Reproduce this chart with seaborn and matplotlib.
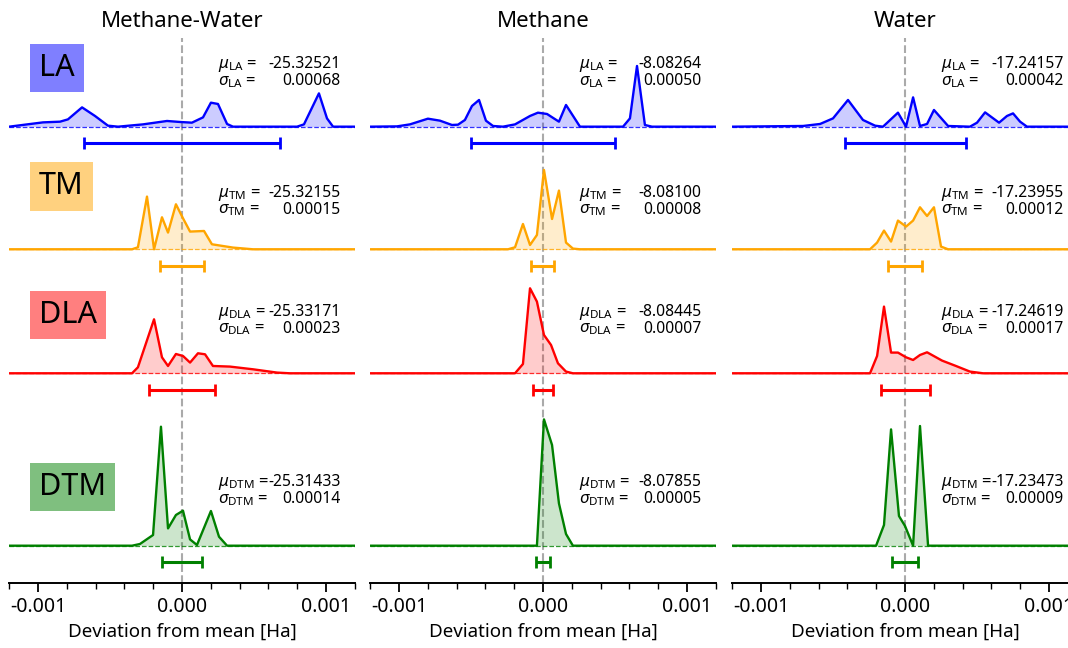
import numpy as np
import pandas as pd
import matplotlib
matplotlib.use("Agg")
import matplotlib.pyplot as plt
from matplotlib.ticker import MultipleLocator, FormatStrFormatter
import seaborn as sns

# Systems (columns) and methods (rows)
systems = ["Methane-Water", "Methane", "Water"]
methods = ["LA", "TM", "DLA", "DTM"]
colors = ["blue", "orange", "red", "green"]

# Means and standard deviations [Ha]
mu_mw = [-25.32521, -25.32155, -25.33171, -25.31433]
sigma_mw = [0.00068, 0.00015, 0.00023, 0.00014]
mu_me = [-8.08264, -8.08100, -8.08445, -8.07855]
sigma_me = [0.00050, 0.00008, 0.00007, 0.00005]
mu_w = [-17.24157, -17.23955, -17.24619, -17.23473]
sigma_w = [0.00042, 0.00012, 0.00017, 0.00009]

# Distributions: deviation (units of 1e-4 Ha) and density (arbitrary units)
mw_la_x = [-12.0, -9.65, -8.47, -7.92, -6.94, -6.04, -5.14, -4.44, -2.71, -1.04, -0.14, 0.69,
           1.46, 2.01, 2.5, 3.13, 3.54, 7.99, 8.47, 9.51, 10.07, 10.49, 12.0]
mw_la_y = [0, 4.3, 5, 7.3, 19.3, 10.7, 1, 0, 2.3, 5.7, 4.7, 4, 9.3, 24, 22.7, 2.7, 0, 0, 2.3,
           33.3, 8.3, 0, 0]
mw_tm_x = [-12.0, -3.47, -3.06, -2.43, -1.94, -1.39, -0.97, -0.42, 0.07, 0.56, 1.53, 2.08,
           3.54, 4.93, 12.0]
mw_tm_y = [0, 0, 2, 52.7, 0, 32, 16.7, 45, 31, 17.7, 18.3, 5, 1.7, 0, 0]
mw_dla_x = [-12.0, -3.47, -3.06, -1.94, -1.39, -0.97, -0.42, 0.07, 0.56, 1.11, 1.6, 2.15,
            3.33, 4.93, 6.6, 7.5, 12.0]
mw_dla_y = [0, 0, 6, 54, 16, 7.3, 19.3, 17.3, 10.7, 20, 19, 7.3, 6.7, 4, 0.7, 0, 0]
mw_dtm_x = [-12.0, -3.47, -2.92, -2.01, -1.46, -0.97, -0.42, 0.07, 0.56, 1.04, 2.01, 2.57,
            3.13, 12.0]
mw_dtm_y = [0, 0, 1.7, 10.7, 119, 17.3, 30.7, 35, 6.3, 0.7, 34.7, 9, 0, 0]

me_la_x = [-12.0, -10.14, -9.24, -7.99, -7.15, -6.32, -5.9, -5.42, -4.93, -4.44, -3.96, -3.47,
           -2.78, -1.94, -0.9, -0.35, 0.28, 1.11, 1.6, 2.57, 5.56, 6.04, 6.53, 7.08, 7.57, 12.0]
me_la_y = [0, 0.3, 2.3, 8, 6, 1.7, 2, 6.7, 20.7, 26.7, 6, 0.7, 0, 2.3, 10.7, 14, 12.7, 5,
           21.7, 0, 0, 8.3, 60.7, 1.7, 0, 0]
me_tm_x = [-12.0, -2.43, -1.94, -1.39, -0.9, -0.42, 0.07, 0.63, 1.11, 1.6, 2.08, 2.57, 12.0]
me_tm_y = [0, 0, 2, 25.3, 4.3, 14.3, 79.3, 30.3, 58.7, 6.7, 0.7, 0, 0]
me_dla_x = [-12.0, -1.94, -1.39, -0.9, -0.42, 0.07, 0.56, 1.04, 1.6, 2.08, 12.0]
me_dla_y = [0, 0, 9.3, 85, 71.7, 38.3, 28.3, 10, 1.7, 0, 0]
me_dtm_x = [-12.0, -0.42, 0.07, 0.63, 1.11, 1.6, 2.08, 12.0]
me_dtm_y = [0, 0, 126.3, 100.7, 42.3, 11.7, 0, 0]

w_la_x = [-12.0, -7.08, -5.9, -5.0, -3.96, -2.92, -2.08, -1.53, -0.49, 0.07, 0.56, 1.04, 1.53,
          2.01, 2.99, 4.51, 5.0, 5.56, 6.53, 7.08, 7.5, 7.99, 8.47, 12.0]
w_la_y = [0, 0.7, 2.7, 8.3, 26.7, 6.7, 1, 0, 14, 0, 29.3, 0.7, 2.7, 16.7, 0.7, 0, 4, 14.3, 4,
          10.7, 13.3, 5, 0, 0]
w_tm_x = [-12.0, -2.43, -1.94, -1.46, -0.97, -0.49, 0.07, 0.56, 1.04, 1.53, 2.01, 2.5, 2.99, 12.0]
w_tm_y = [0, 0, 6.7, 18.7, 7.7, 28.7, 22.7, 28.7, 42, 33.3, 42, 2.7, 0, 0]
w_dla_x = [-12.0, -2.43, -1.94, -1.46, -0.97, -0.49, 0.07, 0.56, 1.04, 1.53, 2.57, 3.54, 4.51,
           5.42, 12.0]
w_dla_y = [0, 0, 17.3, 66.7, 20.7, 20.7, 16, 13.3, 18.3, 21, 12.7, 7.3, 1.7, 0, 0]
w_dtm_x = [-12.0, -2.01, -1.46, -0.97, -0.42, 0.0, 0.56, 1.04, 1.6, 12.0]
w_dtm_y = [0, 0, 20.7, 116.3, 29.7, 19.7, 0, 119.7, 0, 0]

curves = {
    "Methane-Water": [(mw_la_x, mw_la_y), (mw_tm_x, mw_tm_y), (mw_dla_x, mw_dla_y), (mw_dtm_x, mw_dtm_y)],
    "Methane": [(me_la_x, me_la_y), (me_tm_x, me_tm_y), (me_dla_x, me_dla_y), (me_dtm_x, me_dtm_y)],
    "Water": [(w_la_x, w_la_y), (w_tm_x, w_tm_y), (w_dla_x, w_dla_y), (w_dtm_x, w_dtm_y)],
}
stats = {
    "Methane-Water": (mu_mw, sigma_mw),
    "Methane": (mu_me, sigma_me),
    "Water": (mu_w, sigma_w),
}

# row layout (vertical offsets of each ridge)
baselines = [456.3, 333.7, 209.7, 37.3]
mu_text_y = [514.7, 386.3, 267.3, 97.0]
label_y = [515.0, 396.5, 268.0, 96.0]

sns.set_style("white")
plt.rcParams['font.family'] = ['Noto Sans', 'DejaVu Sans']
plt.rcParams['mathtext.fontset'] = 'custom'
plt.rcParams['mathtext.rm'] = 'Noto Sans'
plt.rcParams['mathtext.it'] = 'Noto Sans:italic'
plt.rcParams['text.color'] = 'black'
plt.rcParams['axes.labelcolor'] = 'black'
plt.rcParams['xtick.color'] = 'black'
plt.rcParams['axes.edgecolor'] = 'black'

fig = plt.figure(figsize=(10.68, 6.48), dpi=100)
lefts = [0.0086, 0.3466, 0.6856]

for j, system in enumerate(systems):
    ax = fig.add_axes([lefts[j], 0.1003, 0.3236, 0.8411])
    mus, sigmas = stats[system]
    ax.axvline(0, color='#aaaaaa', ls='--', lw=1.5, zorder=0)
    for i, method in enumerate(methods):
        c = colors[i]
        base = baselines[i]
        cx, cy = curves[system][i]
        df = pd.DataFrame({"dev": np.array(cx) * 1e-4, "dens": np.array(cy) + base})
        ax.axhline(base, color=c, ls='--', lw=0.9, alpha=0.8, zorder=1)
        ax.fill_between(df["dev"], base, df["dens"], color=c, alpha=0.2, lw=0, zorder=2)
        sns.lineplot(data=df, x="dev", y="dens", color=c, lw=1.7, sort=False,
                     estimator=None, ax=ax, zorder=3)
        ax.errorbar(0, base - 16.5, xerr=sigmas[i], color=c, capsize=4.5, capthick=2,
                    elinewidth=2.2, zorder=3)
        ty = mu_text_y[i]
        ax.text(0.00025, ty, rf"$\mu_{{\mathrm{{{method}}}}}$ =", fontsize=12, va='baseline')
        ax.text(0.0011, ty, f"{mus[i]:.5f}", fontsize=11.3, va='baseline', ha='right')
        ax.text(0.00025, ty - 17, rf"$\sigma_{{\mathrm{{{method}}}}}$ =", fontsize=12, va='baseline')
        ax.text(0.0011, ty - 17, f"{sigmas[i]:.5f}", fontsize=11.3, va='baseline', ha='right')
        if j == 0:
            ax.text(-0.000993, label_y[i], method, fontsize=22, va='center', ha='left',
                    bbox=dict(boxstyle='square,pad=0.3', fc=c, alpha=0.5, ec='none'))

    ax.set_xlim(-0.0012, 0.0012)
    ax.set_ylim(0, 545)
    ax.set_yticks([])
    ax.set_ylabel("")
    ax.set_title(system, fontsize=16, pad=8)
    ax.set_xlabel("Deviation from mean [Ha]", fontsize=13.5)
    ax.xaxis.set_major_locator(MultipleLocator(0.001))
    ax.xaxis.set_minor_locator(MultipleLocator(0.0002))
    ax.xaxis.set_major_formatter(FormatStrFormatter('%.3f'))
    ax.tick_params(axis='x', which='major', length=6.5, width=1.3, labelsize=14, bottom=True)
    ax.tick_params(axis='x', which='minor', length=4, width=1.0, bottom=True)
    sns.despine(ax=ax, left=True)
    ax.spines['bottom'].set_linewidth(1.4)
    ax.patch.set_alpha(0)

fig.savefig("out.png", dpi=100)
